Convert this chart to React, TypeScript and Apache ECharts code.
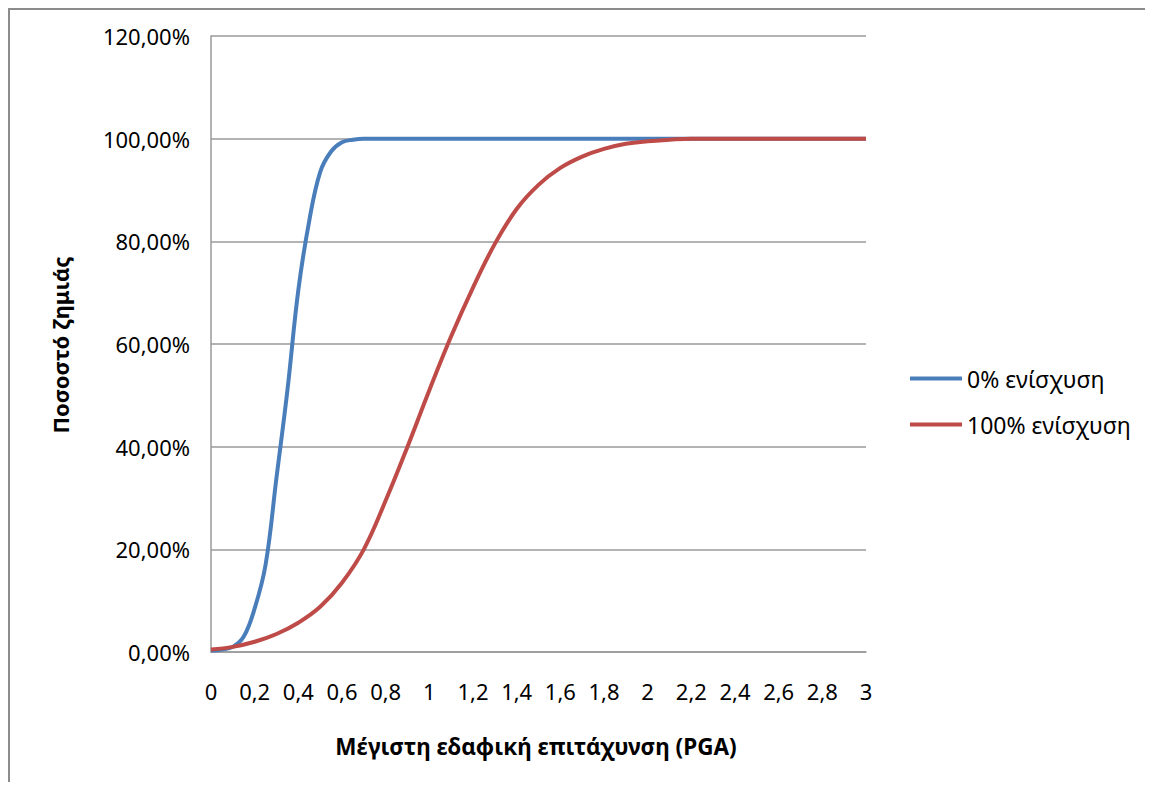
import React, { useEffect, useRef } from "react";
import * as echarts from "echarts";

// Peak ground acceleration (g) and damage probability (%) for each retrofit level
const pgaNoRetrofit = [
  0, 0.05, 0.1, 0.15, 0.2, 0.25, 0.3, 0.35, 0.4, 0.45, 0.5, 0.55, 0.6, 0.65, 0.7,
  0.8, 1, 1.2, 1.4, 1.6, 1.8, 2, 2.2, 2.4, 2.6, 2.8, 3,
];
const damageNoRetrofit = [
  0.3, 0.5, 1, 3, 8.5, 17, 34, 51, 70.5, 84, 93.5, 97.5, 99.3, 99.8, 100,
  100, 100, 100, 100, 100, 100, 100, 100, 100, 100, 100, 100,
];

const pgaFullRetrofit = [
  0, 0.1, 0.2, 0.3, 0.4, 0.5, 0.6, 0.7, 0.8, 0.9, 1, 1.1, 1.2, 1.3, 1.4, 1.5,
  1.6, 1.7, 1.8, 1.9, 2, 2.1, 2.2, 2.4, 2.6, 2.8, 3,
];
const damageFullRetrofit = [
  0.5, 1, 2, 3.5, 5.7, 8.8, 13.5, 20, 29.5, 40, 51, 61.5, 71, 79.5, 86.3, 91,
  94.3, 96.5, 98, 99, 99.5, 99.8, 100, 100, 100, 100, 100,
];

const seriesNames = ["0% ενίσχυση", "100% ενίσχυση"];
const xTitle = "Μέγιστη εδαφική επιτάχυνση (PGA)";
const yTitle = "Ποσοστό ζημιάς";

const FONT = "'Noto Sans', 'DejaVu Sans', sans-serif";
const GRID_COLOR = "#9a9a9a";

export default function App() {
  const ref = useRef<HTMLDivElement>(null);

  useEffect(() => {
    if (!ref.current) return;
    const chart = echarts.init(ref.current, undefined, { renderer: "svg" });

    const pairs = (xs: number[], ys: number[]) => xs.map((x, i) => [x, ys[i]]);

    chart.setOption({
      animation: false,
      backgroundColor: "#ffffff",
      textStyle: { fontFamily: FONT },
      grid: { left: 201, top: 26, width: 655, height: 616, containLabel: false },
      legend: {
        orient: "vertical",
        left: 895,
        top: 352,
        itemWidth: 52,
        itemHeight: 24,
        itemGap: 23,
        icon: "path://M0,10 L52,10 L52,14 L0,14 Z",
        textStyle: { fontFamily: FONT, fontSize: 23, color: "#000", padding: [0, 0, 0, 0] },
        data: seriesNames,
      },
      xAxis: {
        type: "value",
        min: 0,
        max: 3,
        interval: 0.2,
        axisLine: { show: true, lineStyle: { color: GRID_COLOR, width: 1.5 } },
        axisTick: { show: false },
        splitLine: { show: false },
        axisLabel: {
          margin: 28,
          fontFamily: FONT,
          fontSize: 22,
          color: "#000",
          formatter: (v: number) => String(Math.round(v * 10) / 10).replace(".", ","),
        },
      },
      yAxis: {
        type: "value",
        min: 0,
        max: 120,
        interval: 20,
        axisLine: { show: true, lineStyle: { color: GRID_COLOR, width: 1.5 } },
        axisTick: { show: false },
        splitLine: { show: true, lineStyle: { color: GRID_COLOR, width: 1.5 } },
        axisLabel: {
          margin: 21,
          fontFamily: FONT,
          fontSize: 22,
          color: "#000",
          formatter: (v: number) => v.toFixed(2).replace(".", ",") + "%",
        },
      },
      graphic: [
        {
          type: "text",
          x: 526,
          y: 736,
          style: {
            text: xTitle,
            font: `bold 22.5px ${FONT}`,
            fill: "#000",
            align: "center",
            verticalAlign: "middle",
          },
        },
        {
          type: "text",
          x: 50,
          y: 335,
          rotation: Math.PI / 2,
          style: {
            text: yTitle,
            font: `bold 22px ${FONT}`,
            fill: "#000",
            align: "center",
            verticalAlign: "middle",
          },
        },
      ],
      series: [
        {
          name: seriesNames[0],
          type: "line",
          data: pairs(pgaNoRetrofit, damageNoRetrofit),
          showSymbol: false,
          symbol: "none",
          smooth: 0.4,
          lineStyle: { color: "#4a7ebb", width: 4 },
          itemStyle: { color: "#4a7ebb" },
          z: 2,
        },
        {
          name: seriesNames[1],
          type: "line",
          data: pairs(pgaFullRetrofit, damageFullRetrofit),
          showSymbol: false,
          symbol: "none",
          smooth: 0.4,
          lineStyle: { color: "#be4b48", width: 4 },
          itemStyle: { color: "#be4b48" },
          z: 3,
        },
      ],
    });

    return () => chart.dispose();
  }, []);

  return (
    <div
      style={{
        width: 1137,
        height: 774,
        boxSizing: "border-box",
        borderLeft: "2px solid #8c8c8c",
        borderTop: "2px solid #8c8c8c",
        background: "#fff",
      }}
    >
      <div ref={ref} style={{ width: 1135, height: 772 }} />
    </div>
  );
}
